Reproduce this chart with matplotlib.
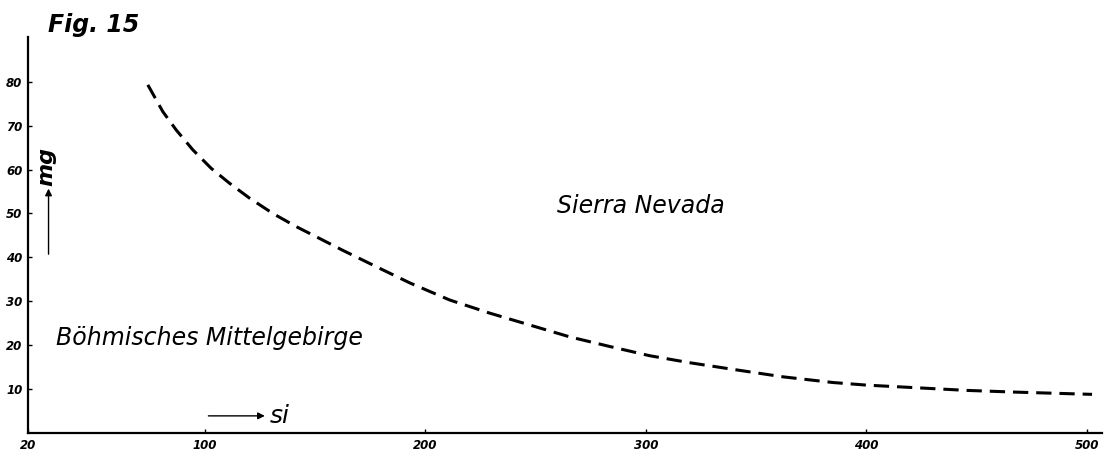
import matplotlib
matplotlib.use("Agg")
import matplotlib.pyplot as plt

# si / mg boundary line between the two provinces
si = [74.3, 81.1, 87.2, 94.7, 103.0, 111.3, 120.4, 131.0, 141.6, 152.2,
      162.7, 178.6, 193.0, 211.1, 229.3, 247.4, 265.5, 283.7, 301.8, 320.0,
      339.5, 362.1, 384.8, 400.2, 422.9, 445.6, 468.3, 502.3]
mg = [79.3, 73.2, 69.0, 64.5, 60.3, 56.9, 53.5, 50.0, 47.0, 44.3,
      41.6, 37.7, 34.2, 30.3, 27.3, 24.6, 21.9, 19.7, 17.6, 16.0,
      14.5, 12.8, 11.5, 10.9, 10.3, 9.7, 9.3, 8.8]

x_ticks = [20, 100, 200, 300, 400, 500]
y_ticks = [10, 20, 30, 40, 50, 60, 70, 80]

fig = plt.figure(figsize=(11.12, 4.58), dpi=100)
ax = fig.add_axes([0.0252, 0.0546, 0.9658, 0.8646])

ax.plot(si, mg, color="black", lw=2.2, linestyle=(0, (5.0, 2.6)),
        solid_capstyle="butt", dash_capstyle="butt")

ax.set_xlim(20, 506.8)
ax.set_ylim(0, 90.2)
for side in ("top", "right"):
    ax.spines[side].set_visible(False)
for side in ("left", "bottom"):
    ax.spines[side].set_linewidth(1.6)

ax.set_xticks(x_ticks)
ax.set_yticks(y_ticks)
ax.set_xticklabels([str(v) for v in x_ticks])
ax.set_yticklabels([str(v) for v in y_ticks])
ax.tick_params(direction="in", length=3, width=1, pad=4)
for lab in ax.get_xticklabels() + ax.get_yticklabels():
    lab.set_fontsize(8.5)
    lab.set_fontweight("bold")
    lab.set_fontstyle("italic")

ax.text(259.6, 50.1, "Sierra Nevada", fontsize=17, fontstyle="italic",
        ha="left", va="baseline")
ax.text(32.9, 20.0, "Böhmisches Mittelgebirge", fontsize=17,
        fontstyle="italic", ha="left", va="baseline")

# axis arrows
ax.annotate("", xy=(29.3, 56.3), xytext=(29.3, 40.1),
            arrowprops=dict(arrowstyle="-|>", lw=1, color="black",
                            mutation_scale=10))
ax.text(28.3, 60.8, "mg", rotation=90, fontsize=16, fontweight="bold",
        fontstyle="italic", ha="center", va="center")
ax.annotate("", xy=(128.6, 3.9), xytext=(100.5, 3.9),
            arrowprops=dict(arrowstyle="-|>", lw=1, color="black",
                            mutation_scale=10))
ax.text(129.5, 2.3, "si", fontsize=18, fontstyle="italic",
        ha="left", va="baseline")

fig.text(48 / 1112, 0.930, "Fig. 15", fontsize=17, fontstyle="italic",
         fontweight="semibold", ha="left", va="baseline")

fig.savefig("out.png", dpi=100)
